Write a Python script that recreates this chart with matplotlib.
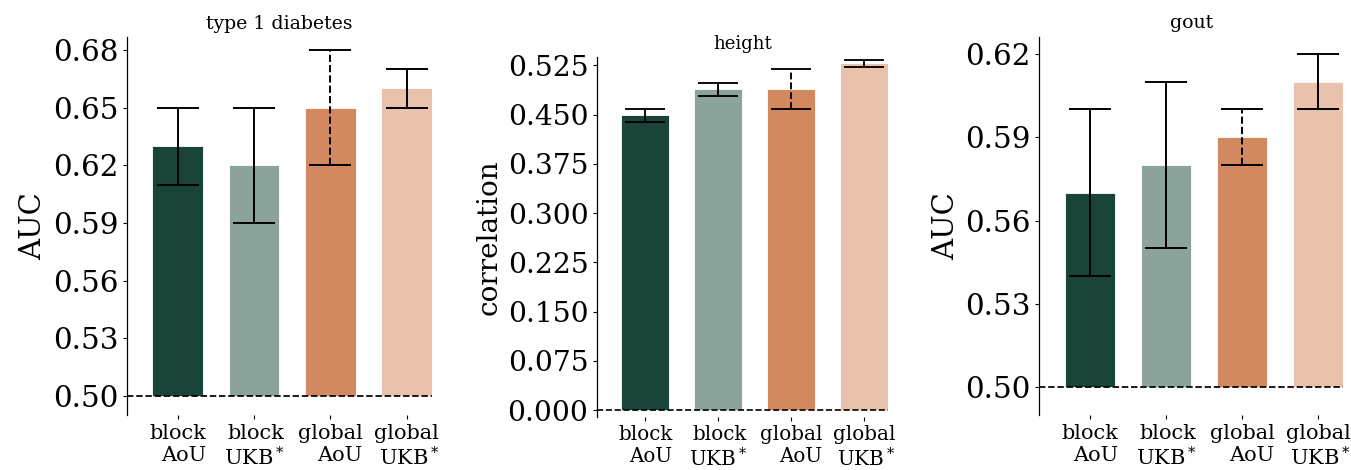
import numpy as np
import matplotlib
matplotlib.use("Agg")
import matplotlib.pyplot as plt

plt.rcParams['font.family'] = ['DejaVu Serif']
plt.rcParams['mathtext.fontset'] = 'dejavuserif'

# bar labels and colours shared by all panels
methods = ['block\nAoU', 'block\nUKB$^*$', 'global\nAoU', 'global\nUKB$^*$']
colors = ['#1a4439', '#8ba39b', '#d3895f', '#e8c2ac']

# type 1 diabetes (AUC)
t1d_mean = [0.63, 0.62, 0.65, 0.66]
t1d_low = [0.61, 0.59, 0.62, 0.65]
t1d_high = [0.65, 0.65, 0.68, 0.67]
t1d_ticks = [0.50, 0.53, 0.56, 0.59, 0.62, 0.65, 0.68]

# height (correlation)
height_mean = [0.449, 0.489, 0.489, 0.529]
height_low = [0.439, 0.479, 0.458, 0.523]
height_high = [0.458, 0.499, 0.519, 0.533]
height_ticks = [0.0, 0.075, 0.150, 0.225, 0.300, 0.375, 0.450, 0.525]

# gout (AUC)
gout_mean = [0.57, 0.58, 0.59, 0.61]
gout_low = [0.54, 0.55, 0.58, 0.60]
gout_high = [0.60, 0.61, 0.60, 0.62]
gout_ticks = [0.50, 0.53, 0.56, 0.59, 0.62]

# (title, ylabel, baseline, mean, low, high, ticks, format, axes rect, font scale)
panels = [
    ('type 1 diabetes', 'AUC', 0.5, t1d_mean, t1d_low, t1d_high, t1d_ticks, '%.2f',
     [0.0940, 0.1170, 0.2258, 0.8043], 1.0),
    ('height', 'correlation', 0.0, height_mean, height_low, height_high, height_ticks, '%.3f',
     [0.4417, 0.1134, 0.2158, 0.7660], 0.957),
    ('gout', 'AUC', 0.5, gout_mean, gout_low, gout_high, gout_ticks, '%.2f',
     [0.7693, 0.1170, 0.2250, 0.8049], 1.0),
]

bar_w = 0.665
cap_half = 0.275

fig = plt.figure(figsize=(13.51, 4.70), dpi=100)

for title, ylab, base, mean, low, high, ticks, fmt, rect, s in panels:
    ax = fig.add_axes(rect)
    x = np.arange(len(methods))
    mean = np.array(mean)
    ax.bar(x, mean - base, bottom=base, width=bar_w, color=colors,
           edgecolor='white', linewidth=0.6, zorder=2)

    # error bars: global AoU drawn dashed
    for i in x:
        ls = '--' if i == 2 else '-'
        ax.vlines(i, low[i], high[i], color='black', lw=1.4 * s, ls=ls, zorder=3)
        ax.hlines([low[i], high[i]], i - cap_half, i + cap_half,
                  color='black', lw=1.4 * s, zorder=3)

    ax.axhline(base, color='black', ls='--', lw=1.25 * s, zorder=4)

    ax.set_xlim(-bar_w, len(methods) - 1 + bar_w / 2)
    ax.set_ylim(base - 0.01, max(high) * 1.01)
    ax.set_yticks(ticks)
    ax.set_yticklabels([fmt % t for t in ticks], fontsize=21.2 * s)
    ax.set_xticks(x)
    ax.set_xticklabels(methods, fontsize=15 * s, multialignment='right')
    ax.tick_params(axis='both', length=2.7 * s, width=0.8, pad=3.5 * s)
    ax.set_ylabel(ylab, fontsize=21 * s, labelpad=4 * s)
    ax.set_title(title, fontsize=13.6 * s, pad=6 * s)

    for sp in ['top', 'right', 'bottom']:
        ax.spines[sp].set_visible(False)
    ax.spines['left'].set_linewidth(0.9)

plt.savefig('out.png', dpi=100)
